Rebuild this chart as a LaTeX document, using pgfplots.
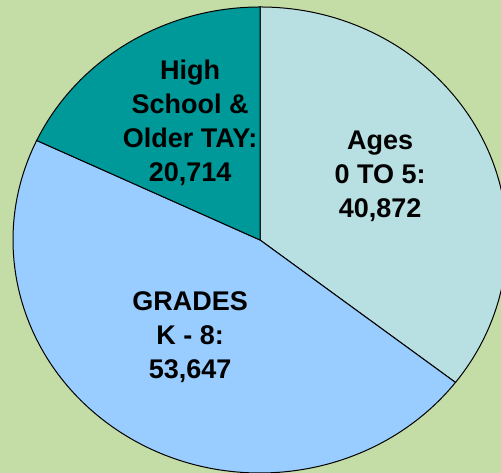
\documentclass[border=0pt]{standalone}
\usepackage{fontspec}
\setmainfont{Liberation Sans}
\usepackage{pgfplots}
\usepackage{pgfplotstable}
\pgfplotsset{compat=1.18}
\definecolor{bg}{RGB}{196,220,165}
\definecolor{cAges}{RGB}{184,224,227}
\definecolor{cGrades}{RGB}{153,204,255}
\definecolor{cHS}{RGB}{0,153,153}
\pgfplotstableread{
label value
ages 40872
grades 53647
hs 20714
}\piedata
\pgfplotstablegetelem{0}{value}\of\piedata \let\va\pgfplotsretval
\pgfplotstablegetelem{1}{value}\of\piedata \let\vb\pgfplotsretval
\pgfplotstablegetelem{2}{value}\of\piedata \let\vc\pgfplotsretval
\edef\tot{\fpeval{\va+\vb+\vc}}
\edef\aone{\fpeval{round(90-360*\va/\tot,4)}}
\edef\atwo{\fpeval{round(\aone-360*\vb/\tot,4)}}
\begin{document}
\begin{tikzpicture}
\begin{axis}[
  scale only axis, width=250.5pt, height=236.5pt,
  xmin=-1.05263, xmax=0.97571, ymin=-1, ymax=1.03004,
  hide axis, clip=true,
]
\fill[bg] (rel axis cs:0,0) rectangle (rel axis cs:1,1);
\filldraw[fill=cAges, draw=black, line width=0.5pt]
  (axis cs:0,0) -- (axis cs:0,1)
  arc[start angle=90, end angle=\aone, x radius=123.5pt, y radius=116.5pt] -- cycle;
\filldraw[fill=cGrades, draw=black, line width=0.5pt]
  (axis cs:0,0) -- (axis cs:{cos(\aone)},{sin(\aone)})
  arc[start angle=\aone, end angle=\atwo, x radius=123.5pt, y radius=116.5pt] -- cycle;
\filldraw[fill=cHS, draw=black, line width=0.5pt]
  (axis cs:0,0) -- (axis cs:{cos(\atwo)},{sin(\atwo)})
  arc[start angle=\atwo, end angle=-270, x radius=123.5pt, y radius=116.5pt] -- cycle;
\tikzset{lbl/.style={align=center, font=\fontsize{13.5}{17}\selectfont\bfseries, inner sep=0pt}}
\node[lbl] at (axis cs:-0.283,0.502) {High\\School \&\\Older TAY:\\20,714};
\node[lbl] at (axis cs:0.486,0.275) {Ages\\0 TO 5:\\40,872};
\node[lbl] at (axis cs:-0.283,-0.416) {GRADES\\K - 8:\\53,647};
\end{axis}
\end{tikzpicture}
\end{document}
